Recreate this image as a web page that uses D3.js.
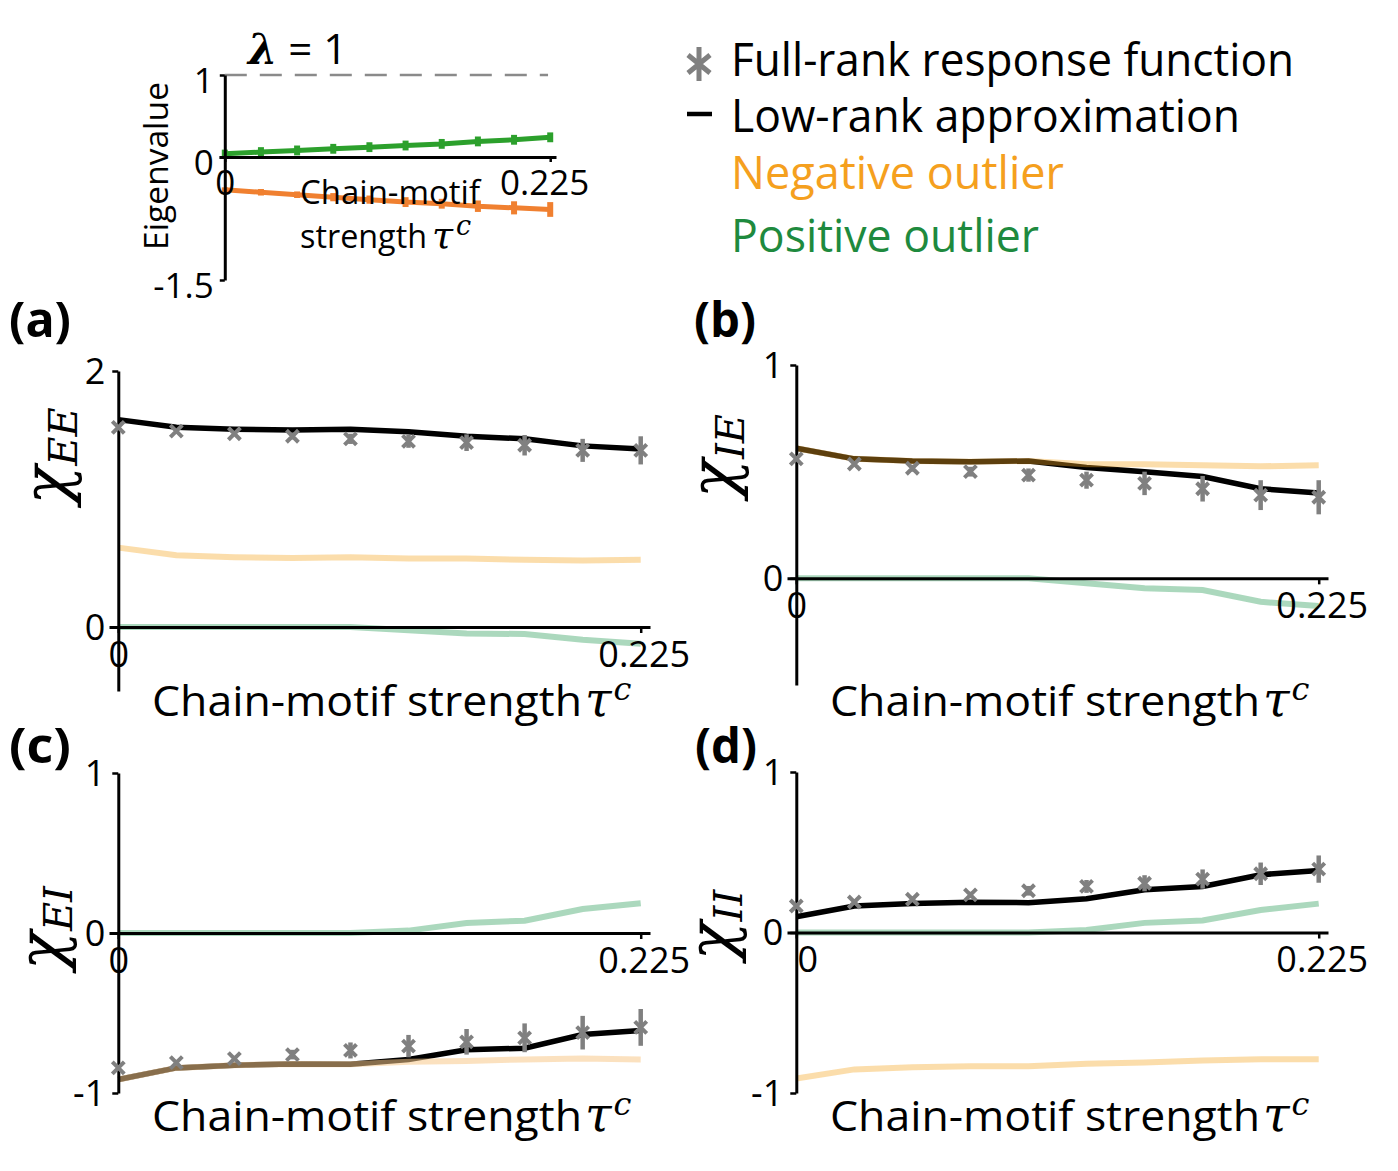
<!DOCTYPE html>
<html>
<head>
<meta charset="utf-8">
<script src="https://cdn.jsdelivr.net/npm/d3@7"></script>
<style>
body { margin: 0; background: #fff; }
svg { display: block; }
</style>
</head>
<body>
<svg id="fig" width="1398" height="1171"></svg>
<script>
// chain-motif strengths
const tau = [0, 0.025, 0.05, 0.075, 0.1, 0.125, 0.15, 0.175, 0.2, 0.225]

// inset: outlier eigenvalues
const eigPos = [0.04, 0.06, 0.08, 0.10, 0.12, 0.14, 0.16, 0.19, 0.21, 0.24]
const eigPosErr = [0.05, 0.06, 0.06, 0.06, 0.06, 0.06, 0.06, 0.06, 0.06, 0.06]
const eigNeg = [-0.40, -0.43, -0.46, -0.49, -0.52, -0.55, -0.57, -0.60, -0.62, -0.64]
const eigNegErr = [0.03, 0.04, 0.04, 0.05, 0.05, 0.06, 0.06, 0.07, 0.08, 0.09]

// (a) chi_EE
const eeFull = [1.56, 1.53, 1.51, 1.49, 1.47, 1.45, 1.44, 1.42, 1.38, 1.38]
const eeErr = [0.01, 0.01, 0.015, 0.025, 0.04, 0.05, 0.065, 0.08, 0.09, 0.11]
const eeLow = [1.62, 1.56, 1.545, 1.54, 1.545, 1.525, 1.49, 1.47, 1.415, 1.39]
const eeNeg = [0.62, 0.56, 0.545, 0.54, 0.545, 0.535, 0.535, 0.525, 0.52, 0.525]
const eePos = [0, 0, 0, 0, 0, -0.026, -0.05, -0.055, -0.10, -0.13]

// (b) chi_IE
const ieFull = [0.56, 0.536, 0.516, 0.50, 0.484, 0.46, 0.445, 0.42, 0.39, 0.38]
const ieErr = [0.01, 0.01, 0.016, 0.023, 0.031, 0.04, 0.055, 0.06, 0.07, 0.08]
const ieLow = [0.61, 0.56, 0.55, 0.547, 0.55, 0.52, 0.50, 0.477, 0.42, 0.40]
const ieNeg = [0.61, 0.56, 0.55, 0.547, 0.55, 0.535, 0.535, 0.53, 0.525, 0.53]
const iePos = [0, 0, 0, 0, 0, -0.023, -0.047, -0.055, -0.11, -0.13]

// (c) chi_EI
const eiFull = [-0.843, -0.81, -0.785, -0.76, -0.734, -0.707, -0.68, -0.655, -0.623, -0.59]
const eiErr = [0.01, 0.01, 0.017, 0.03, 0.05, 0.07, 0.08, 0.09, 0.105, 0.115]
const eiLow = [-0.916, -0.843, -0.826, -0.818, -0.82, -0.79, -0.73, -0.72, -0.635, -0.61]
const eiNeg = [-0.916, -0.843, -0.826, -0.818, -0.82, -0.805, -0.80, -0.79, -0.785, -0.79]
const eiPos = [0, 0, 0, 0, 0, 0.015, 0.063, 0.077, 0.15, 0.186]

// (d) chi_II
const iiFull = [0.165, 0.19, 0.207, 0.234, 0.26, 0.287, 0.307, 0.333, 0.366, 0.395]
const iiErr = [0.01, 0.01, 0.017, 0.02, 0.03, 0.04, 0.05, 0.06, 0.07, 0.085]
const iiLow = [0.098, 0.165, 0.18, 0.188, 0.186, 0.21, 0.266, 0.287, 0.36, 0.387]
const iiNeg = [-0.91, -0.853, -0.84, -0.833, -0.833, -0.818, -0.81, -0.797, -0.79, -0.79]
const iiPos = [0, 0, 0, 0, 0, 0.015, 0.06, 0.075, 0.14, 0.18]

const legendLabels = ['Full-rank response function', 'Low-rank approximation', 'Negative outlier', 'Positive outlier']

const SANS = '"Open Sans", "Noto Sans", sans-serif'
const MATH = '"DejaVu Serif", "Liberation Serif", serif'
const GRAY = '#808080'

const svg = d3.select('#fig')

const fmt = d => String(d)

// draws one response-function panel
const panel = (p) => {
    const x = d3.scaleLinear().domain([-0.004, 0.229]).range([p.x0 - 9, p.x0 + 532])
    const y = d3.scaleLinear().domain(p.ydom).range([p.ybot, p.ytop])
    const g = svg.append('g')

    const line = d3.line()
        .x((d, i) => x(tau[i]))
        .y(d => y(d))

    g.append('path').datum(p.pos).attr('d', line)
        .attr('fill', 'none').attr('stroke', '#2e9e5b').attr('stroke-opacity', 0.4)
        .attr('stroke-width', 6)
    g.append('path').datum(p.low).attr('d', line)
        .attr('fill', 'none').attr('stroke', 'black').attr('stroke-width', 5.5)
    g.append('path').datum(p.neg).attr('d', line)
        .attr('fill', 'none').attr('stroke', p.negColor).attr('stroke-opacity', p.negOpacity)
        .attr('stroke-width', 6)

    // axes
    const ya = g.append('g')
        .attr('transform', `translate(${x(0)},0)`)
        .call(d3.axisLeft(y).tickValues(p.yticks).tickFormat(fmt).tickSize(6).tickSizeOuter(0).tickPadding(7))
    const xa = g.append('g')
        .attr('transform', `translate(0,${y(0)})`)
        .call(d3.axisBottom(x).tickValues([0, 0.225]).tickFormat(fmt).tickSize(6).tickSizeOuter(0).tickPadding(8))
    ;[ya, xa].forEach(a => {
        a.select('.domain').attr('stroke-width', 3)
        a.selectAll('.tick line').attr('stroke-width', 2.5)
        a.selectAll('text').attr('font-family', SANS).attr('font-size', 36).attr('fill', 'black')
    })
    ya.selectAll('text').attr('dy', '0.34em')
    xa.select('.tick text').attr('dx', p.zeroDx)
    xa.select('.tick:last-of-type text').attr('dx', 3)

    // full-rank points with error bars
    const pts = g.append('g')
    tau.forEach((t, i) => {
        pts.append('line')
            .attr('x1', x(t)).attr('x2', x(t))
            .attr('y1', y(p.full[i] - p.err[i])).attr('y2', y(p.full[i] + p.err[i]))
            .attr('stroke', GRAY).attr('stroke-width', 4.5)
        pts.append('path')
            .attr('transform', `translate(${x(t)},${y(p.full[i])})`)
            .attr('d', 'M-6,-6L6,6M-6,6L6,-6')
            .attr('stroke', GRAY).attr('stroke-width', 4).attr('fill', 'none')
    })

    // x label
    g.append('text')
        .attr('x', p.x0 + 34).attr('y', p.labY)
        .attr('font-family', SANS).attr('font-size', 42)
        .attr('textLength', 430).attr('lengthAdjust', 'spacingAndGlyphs')
        .text('Chain-motif strength')
    const tl = g.append('text')
        .attr('x', p.x0 + 467).attr('y', p.labY)
        .attr('font-family', MATH).attr('font-style', 'italic').attr('font-size', 48)
    tl.append('tspan').text('τ')
    tl.append('tspan').attr('dx', 2).attr('dy', -16).attr('font-size', 32).text('c')

    // y label
    const yl = g.append('text')
        .attr('transform', `translate(${p.chiX},${p.chiY}) rotate(-90)`)
        .attr('text-anchor', 'middle')
        .attr('font-family', MATH).attr('font-style', 'italic')
    yl.append('tspan').attr('font-size', 64).text('χ')
    yl.append('tspan').attr('font-size', 40).attr('dy', 9).text(p.sub)

    // panel letter
    g.append('text')
        .attr('x', p.letX).attr('y', p.letY)
        .attr('font-family', SANS).attr('font-weight', 'bold').attr('font-size', 48)
        .attr('textLength', 62).attr('lengthAdjust', 'spacingAndGlyphs')
        .text(p.letter)
}

const lightOrange = '#f5a623'

panel({ x0: 118, ydom: [-0.5, 2], ybot: 691, ytop: 371, yticks: [0, 2],
    full: eeFull, err: eeErr, low: eeLow, neg: eeNeg, pos: eePos,
    negColor: lightOrange, negOpacity: 0.38, zeroDx: 0,
    labY: 716, chiX: 68, chiY: 456, sub: 'EE', letter: '(a)', letX: 9, letY: 337 })
panel({ x0: 796, ydom: [-0.5, 1], ybot: 685, ytop: 365, yticks: [0, 1],
    full: ieFull, err: ieErr, low: ieLow, neg: ieNeg, pos: iePos,
    negColor: lightOrange, negOpacity: 0.38, zeroDx: 0,
    labY: 716, chiX: 735, chiY: 456, sub: 'IE', letter: '(b)', letX: 694, letY: 337 })
panel({ x0: 118, ydom: [-1, 1], ybot: 1093, ytop: 773, yticks: [-1, 0, 1],
    full: eiFull, err: eiErr, low: eiLow, neg: eiNeg, pos: eiPos,
    negColor: '#f8c98a', negOpacity: 0.55, zeroDx: 0,
    labY: 1131, chiX: 63, chiY: 928, sub: 'EI', letter: '(c)', letX: 9, letY: 763 })
panel({ x0: 796, ydom: [-1, 1], ybot: 1093, ytop: 772, yticks: [-1, 0, 1],
    full: iiFull, err: iiErr, low: iiLow, neg: iiNeg, pos: iiPos,
    negColor: lightOrange, negOpacity: 0.38, zeroDx: 11,
    labY: 1131, chiX: 733, chiY: 925, sub: 'II', letter: '(d)', letX: 695, letY: 763 })

// ---- inset: eigenvalues ----
const ix = d3.scaleLinear().domain([-0.004, 0.229]).range([219, 556])
const iy = d3.scaleLinear().domain([-1.5, 1]).range([280, 75])
const inset = svg.append('g')

inset.append('line')
    .attr('x1', ix(0)).attr('x2', ix(0.2235)).attr('y1', iy(1)).attr('y2', iy(1))
    .attr('stroke', '#8a8a8a').attr('stroke-width', 2.5).attr('stroke-dasharray', '22,13')

const iline = d3.line().x((d, i) => ix(tau[i])).y(d => iy(d))
;[[eigPos, eigPosErr, '#2ca02c'], [eigNeg, eigNegErr, '#f08030']].forEach(([vals, errs, col]) => {
    inset.append('path').datum(vals).attr('d', iline)
        .attr('fill', 'none').attr('stroke', col).attr('stroke-width', 5)
    tau.forEach((t, i) => {
        inset.append('line')
            .attr('x1', ix(t)).attr('x2', ix(t))
            .attr('y1', iy(vals[i] - errs[i])).attr('y2', iy(vals[i] + errs[i]))
            .attr('stroke', col).attr('stroke-width', 6)
    })
})

const iya = inset.append('g').attr('transform', `translate(${ix(0)},0)`)
    .call(d3.axisLeft(iy).tickValues([-1.5, 0, 1]).tickFormat(fmt).tickSize(5).tickSizeOuter(0).tickPadding(6))
const ixa = inset.append('g').attr('transform', `translate(0,${iy(0)})`)
    .call(d3.axisBottom(ix).tickValues([0, 0.225]).tickFormat(fmt).tickSize(5).tickSizeOuter(0).tickPadding(8))
;[iya, ixa].forEach(a => {
    a.select('.domain').attr('stroke-width', 3)
    a.selectAll('.tick line').attr('stroke-width', 2.5)
    a.selectAll('text').attr('font-family', SANS).attr('font-size', 35).attr('fill', 'black')
})
iya.selectAll('text').attr('dy', '0.5em')
ixa.select('.tick:last-of-type text').attr('dx', -6)

inset.append('text')
    .attr('transform', 'translate(168,166) rotate(-90)')
    .attr('text-anchor', 'middle')
    .attr('font-family', SANS).attr('font-size', 32)
    .attr('textLength', 168).attr('lengthAdjust', 'spacingAndGlyphs')
    .text('Eigenvalue')

inset.append('text').attr('x', 300).attr('y', 204)
    .attr('font-family', SANS).attr('font-size', 32)
    .attr('textLength', 180).attr('lengthAdjust', 'spacingAndGlyphs')
    .text('Chain-motif')
inset.append('text').attr('x', 300).attr('y', 248)
    .attr('font-family', SANS).attr('font-size', 32)
    .attr('textLength', 127).attr('lengthAdjust', 'spacingAndGlyphs')
    .text('strength')
const itl = inset.append('text').attr('x', 432).attr('y', 248)
    .attr('font-family', MATH).attr('font-style', 'italic').attr('font-size', 38)
itl.append('tspan').text('τ')
itl.append('tspan').attr('dx', 3).attr('dy', -13).attr('font-size', 27).text('c')

const lam = inset.append('text').attr('x', 248).attr('y', 64)
    .attr('font-family', SANS).attr('font-size', 42)
lam.append('tspan').attr('font-family', MATH).attr('font-style', 'italic').attr('font-weight', 'bold').text('λ')
lam.append('tspan').text(' = 1')

// ---- legend ----
const leg = svg.append('g')
const legY = [76, 132, 189, 252]
const legW = [563, 509, 333, 308]
const legC = ['black', 'black', '#f5a01e', '#1e8a3e']
legendLabels.forEach((t, i) => {
    leg.append('text')
        .attr('x', 731).attr('y', legY[i])
        .attr('font-family', SANS).attr('font-size', 45).attr('fill', legC[i])
        .attr('textLength', legW[i]).attr('lengthAdjust', 'spacingAndGlyphs')
        .text(t)
})
leg.append('path')
    .attr('transform', 'translate(699,64)')
    .attr('d', 'M0,-17L0,17M-11,-9L11,9M-11,9L11,-9')
    .attr('stroke', GRAY).attr('stroke-width', 5).attr('fill', 'none')
leg.append('line')
    .attr('x1', 687).attr('x2', 712).attr('y1', 114).attr('y2', 114)
    .attr('stroke', 'black').attr('stroke-width', 4.5)
</script>
</body>
</html>
